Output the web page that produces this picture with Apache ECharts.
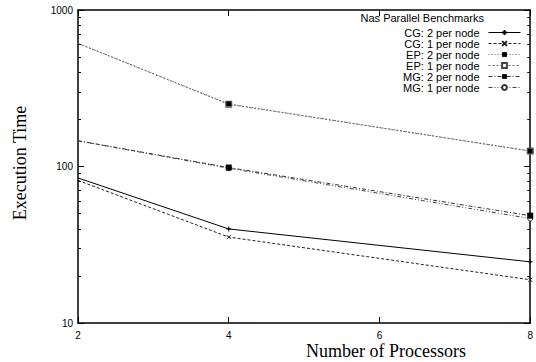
<!DOCTYPE html>
<html>
<head>
<meta charset="utf-8">
<script src="https://cdn.jsdelivr.net/npm/echarts@6/dist/echarts.min.js"></script>
<style>
html,body{margin:0;padding:0;background:#fff;}
#c{width:536px;height:362px;}
</style>
</head>
<body>
<div id="c"></div>
<script>
// Data
var processors = [2, 4, 8];
var cg2 = [84.5, 39.9, 24.6];
var cg1 = [81.5, 35.4, 18.9];
var ep2 = [612, 251, 125.5];
var ep1 = [612, 250, 125.5];
var mg2 = [146, 98.5, 48.5];
var mg1 = [146, 97.5, 46.5];
var seriesNames = ['CG: 2 per node', 'CG: 1 per node', 'EP: 2 per node', 'EP: 1 per node', 'MG: 2 per node', 'MG: 1 per node'];
var xTicks = [2, 4, 6, 8];
var yMajorTicks = [10, 100, 1000];
var yMinorTicks = [20, 30, 40, 50, 60, 70, 80, 90, 200, 300, 400, 500, 600, 700, 800, 900];

var chart = echarts.init(document.getElementById('c'), null, {renderer: 'svg'});

function mk(vals) {
  return vals.map(function (v, i) {
    var d = {value: [processors[i], v]};
    if (i === 0) d.symbol = 'none';
    return d;
  });
}

var plusPath = 'path://M0,5L10,5M5,0L5,10';
var crossPath = 'path://M0,0L10,10M10,0L0,10';

var styles = [
  {data: cg2, color: '#000', type: 'solid', symbol: plusPath, size: 5, fill: 'none', border: '#000', bw: 1, z: 2},
  {data: cg1, color: '#222', type: [3, 2], symbol: crossPath, size: 4, fill: 'none', border: '#222', bw: 1, z: 2},
  {data: ep2, color: '#555', type: [1, 2], symbol: 'rect', size: 5, fill: '#000', border: '#000', bw: 0, z: 4},
  {data: ep1, color: '#666', type: [2, 2], symbol: 'rect', size: 6, fill: '#fff', border: '#444', bw: 1, z: 3},
  {data: mg2, color: '#333', type: [4, 2, 1, 2], symbol: 'rect', size: 6, fill: '#000', border: '#000', bw: 0, z: 4},
  {data: mg1, color: '#444', type: [4, 2, 1, 2, 1, 2], symbol: 'circle', size: 5, fill: '#fff', border: '#333', bw: 1, z: 3}
];

var series = styles.map(function (s, i) {
  return {
    name: seriesNames[i],
    type: 'line',
    xAxisIndex: 0,
    yAxisIndex: 0,
    z: s.z,
    data: mk(s.data),
    symbol: s.symbol,
    symbolSize: s.size,
    showSymbol: true,
    clip: false,
    animation: false,
    lineStyle: {color: s.color, width: 1, type: s.type},
    itemStyle: {color: s.fill === 'none' ? 'rgba(0,0,0,0)' : s.fill, borderColor: s.border, borderWidth: s.bw}
  };
});

var grid = {left: 78, right: 2, top: 10, bottom: 39};
var tickLine = {color: '#000', width: 1};
var sans = 'Liberation Sans, Arial, sans-serif';

function yAxis(position, major, showLine, showLabel) {
  return {
    type: 'log',
    logBase: 10,
    min: 10,
    max: 1000,
    position: position,
    axisLine: {show: showLine, lineStyle: {color: '#000', width: 1.5}},
    axisTick: {show: true, inside: true, length: major ? 6 : 3, lineStyle: tickLine,
      customValues: major ? yMajorTicks : yMinorTicks},
    axisLabel: {show: showLabel, margin: 5, customValues: yMajorTicks, fontFamily: sans, fontSize: 10, color: '#000',
      formatter: function (v) { return String(Math.round(v)); }},
    splitLine: {show: false},
    minorTick: {show: false}
  };
}

var option = {
  backgroundColor: '#fff',
  animation: false,
  grid: grid,
  title: {
    text: 'Nas Parallel Benchmarks',
    right: 52,
    top: 12,
    padding: 0,
    textStyle: {fontFamily: sans, fontSize: 11, fontWeight: 'normal', color: '#000'}
  },
  legend: {
    orient: 'vertical',
    right: 15,
    top: 27,
    align: 'right',
    itemWidth: 32,
    itemHeight: 6,
    itemGap: 0,
    padding: 0,
    selectedMode: false,
    data: seriesNames,
    lineStyle: {width: 1},
    textStyle: {fontFamily: sans, fontSize: 11, color: '#000', lineHeight: 10, padding: [0, 4, 0, 0]}
  },
  xAxis: [{
    type: 'value',
    min: 2,
    max: 8,
    interval: 2,
    position: 'bottom',
    axisLine: {show: true, lineStyle: {color: '#000', width: 1.5}},
    axisTick: {show: true, inside: true, length: 6, lineStyle: tickLine},
    axisLabel: {show: true, margin: 7, fontFamily: sans, fontSize: 10, color: '#000', customValues: xTicks},
    splitLine: {show: false}
  }, {
    type: 'value',
    min: 2,
    max: 8,
    interval: 2,
    position: 'top',
    axisLine: {show: true, lineStyle: {color: '#000', width: 1.5}},
    axisTick: {show: true, inside: true, length: 6, lineStyle: tickLine},
    axisLabel: {show: false},
    splitLine: {show: false}
  }],
  yAxis: [
    yAxis('left', true, true, true),
    yAxis('left', false, false, false),
    yAxis('right', true, true, false),
    yAxis('right', false, false, false)
  ],
  graphic: [{
    type: 'text',
    left: 306,
    top: 342,
    style: {text: 'Number of Processors', font: '18px "Liberation Serif", "Times New Roman", serif', fill: '#000', textAlign: 'center'},
    silent: true
  }, {
    type: 'text',
    x: 20,
    y: 163,
    rotation: Math.PI / 2,
    style: {text: 'Execution Time', font: '18px "Liberation Serif", "Times New Roman", serif', fill: '#000', textAlign: 'center', textVerticalAlign: 'middle'},
    silent: true
  }],
  series: series
};

chart.setOption(option);
</script>
</body>
</html>
